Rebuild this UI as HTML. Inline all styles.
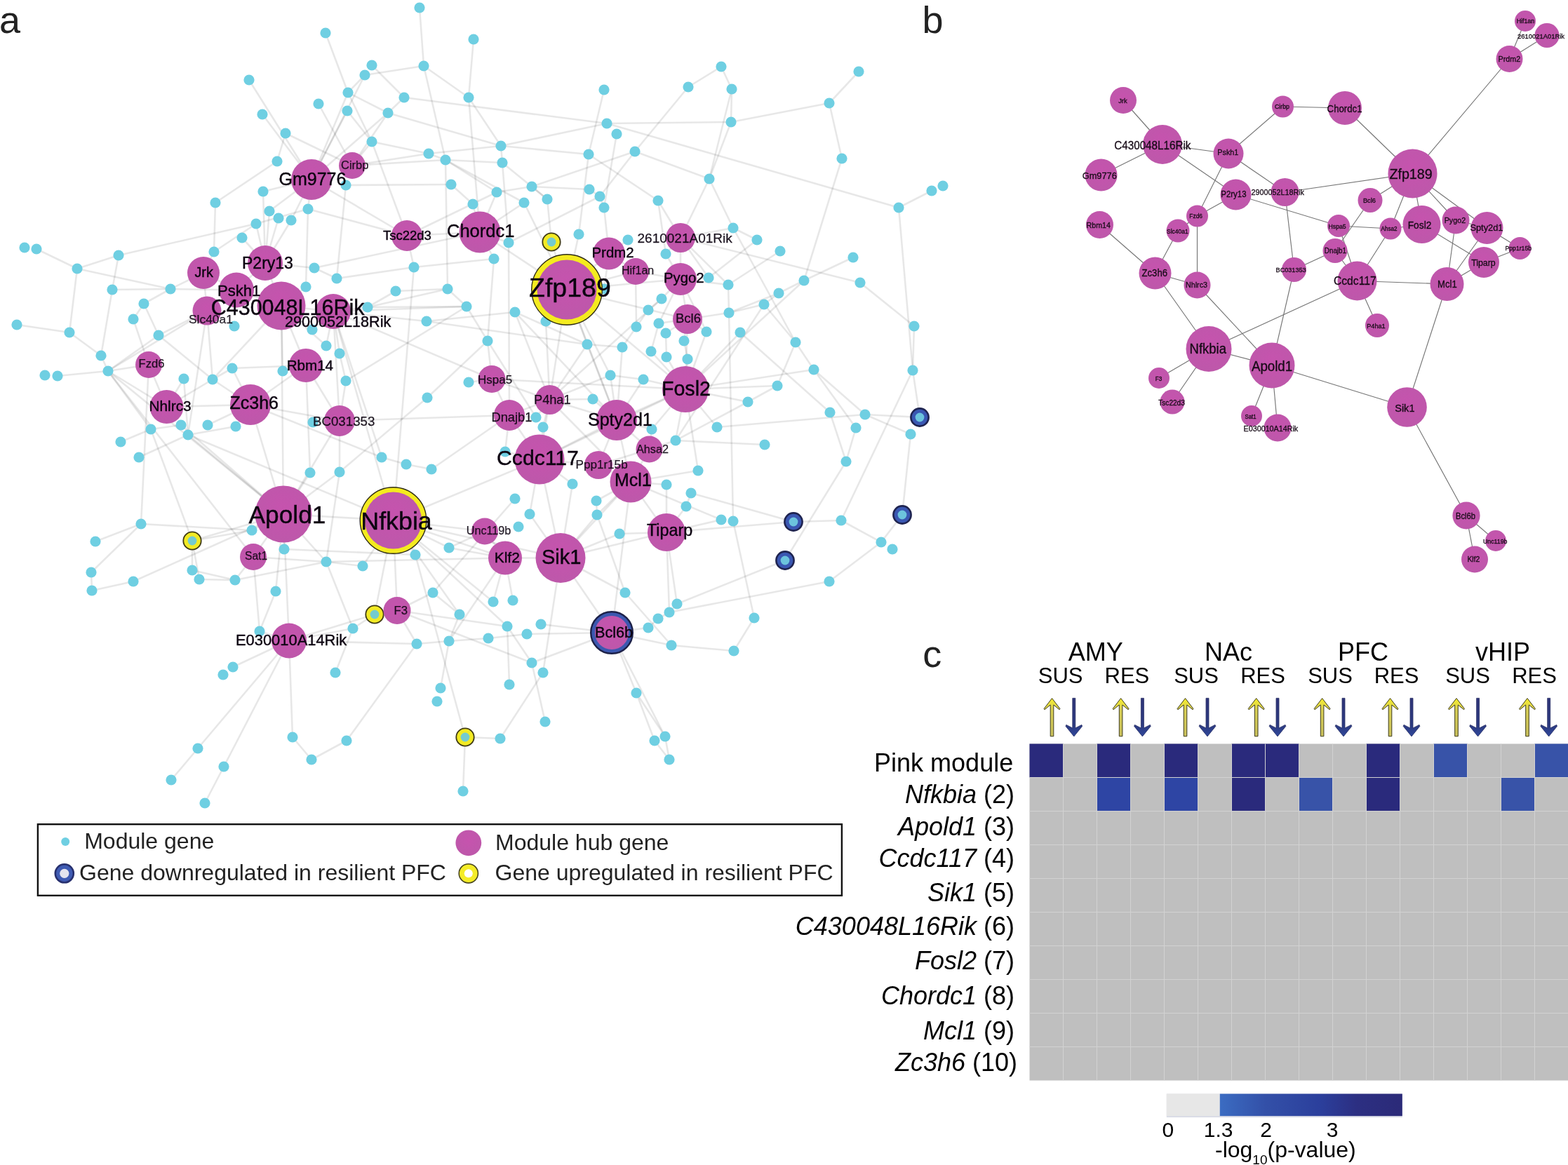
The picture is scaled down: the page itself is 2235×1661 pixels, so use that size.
<!DOCTYPE html>
<html lang="en"><head><meta charset="utf-8"><title>Figure</title>
<style>html,body{margin:0;padding:0;background:#fff}svg{display:block}text{font-family:"Liberation Sans",Arial,Helvetica,sans-serif}.al text{fill:#0c0410;stroke:#0c0410;stroke-width:0.4px}.bl text{fill:#160a16;stroke:#160a16;stroke-width:0.3px}.it{font-style:italic}</style></head><body>
<svg width="2235" height="1661" viewBox="0 0 2235 1661">
<rect width="2235" height="1661" fill="#fff"/>
<defs>
<radialGradient id="hg" cx="50%" cy="40%" r="75%"><stop offset="0" stop-color="#c653ae"/><stop offset="1" stop-color="#bb59a9"/></radialGradient>
<linearGradient id="cb" x1="0" x2="1" y1="0" y2="0"><stop offset="0" stop-color="#3b6cc2"/><stop offset="0.25" stop-color="#3350a8"/><stop offset="0.55" stop-color="#2b3f9c"/><stop offset="0.75" stop-color="#2c2f82"/><stop offset="1" stop-color="#2b2a78"/></linearGradient>
<linearGradient id="yg" x1="0" x2="0" y1="0" y2="1"><stop offset="0" stop-color="#f7ee2c"/><stop offset="0.3" stop-color="#d8cf55"/><stop offset="1" stop-color="#c9c05c"/></linearGradient>
<linearGradient id="bg" x1="0" x2="0" y1="0" y2="1"><stop offset="0" stop-color="#2e3478"/><stop offset="0.7" stop-color="#2c3a80"/><stop offset="1" stop-color="#2f479a"/></linearGradient>
</defs>
<g id="a-edges" stroke="#000" stroke-opacity="0.096" stroke-width="2.6" stroke-linecap="round" fill="none">
<path d="M464 47L496 132"/>
<path d="M530 93L576 139"/>
<path d="M520 107L496 132"/>
<path d="M520 107L604 94"/>
<path d="M520 107L444 256"/>
<path d="M355 114L444 256"/>
<path d="M496 132L553 161"/>
<path d="M496 132L530 202"/>
<path d="M496 132L444 256"/>
<path d="M454 148L502 236"/>
<path d="M495 158L530 202"/>
<path d="M495 158L444 256"/>
<path d="M553 161L576 139"/>
<path d="M553 161L714 208"/>
<path d="M553 161L444 256"/>
<path d="M553 161L502 236"/>
<path d="M374 163L444 256"/>
<path d="M407 190L395 230"/>
<path d="M407 190L502 236"/>
<path d="M530 202L611 219"/>
<path d="M530 202L502 236"/>
<path d="M530 202L580 336"/>
<path d="M395 230L307 289"/>
<path d="M493 264L480 397"/>
<path d="M493 264L643 263"/>
<path d="M375 273L444 256"/>
<path d="M375 273L378 375"/>
<path d="M307 289L305 359"/>
<path d="M439 298L365 319"/>
<path d="M439 298L436 409"/>
<path d="M439 298L444 256"/>
<path d="M439 298L580 336"/>
<path d="M384 301L444 256"/>
<path d="M384 301L378 375"/>
<path d="M397 311L378 375"/>
<path d="M415 314L444 256"/>
<path d="M415 314L378 375"/>
<path d="M365 319L305 359"/>
<path d="M365 319L169 364"/>
<path d="M365 319L378 375"/>
<path d="M345 339L378 375"/>
<path d="M305 359L290 389"/>
<path d="M52 355L110 383"/>
<path d="M169 364L110 383"/>
<path d="M169 364L160 413"/>
<path d="M110 383L243 412"/>
<path d="M110 383L99 474"/>
<path d="M448 382L480 397"/>
<path d="M448 382L378 375"/>
<path d="M448 382L684 331"/>
<path d="M480 397L590 381"/>
<path d="M436 409L401 436"/>
<path d="M160 413L243 412"/>
<path d="M160 413L144 507"/>
<path d="M243 412L205 433"/>
<path d="M243 412L290 389"/>
<path d="M243 412L337 413.5"/>
<path d="M598 11L604 94"/>
<path d="M675 56L668 139"/>
<path d="M604 94L668 139"/>
<path d="M604 94L635 228"/>
<path d="M1028 95L981 124"/>
<path d="M1028 95L1043 127"/>
<path d="M981 124L905 216"/>
<path d="M1043 127L1042 174"/>
<path d="M1043 127L1011 255"/>
<path d="M861 128L839 220"/>
<path d="M576 139L865 176"/>
<path d="M668 139L714 208"/>
<path d="M668 139L684 331"/>
<path d="M865 176L1042 174"/>
<path d="M865 176L714 208"/>
<path d="M865 176L1281 296"/>
<path d="M1042 174L1011 255"/>
<path d="M1042 174L1182 147"/>
<path d="M879 191L861 296"/>
<path d="M714 208L611 219"/>
<path d="M714 208L839 220"/>
<path d="M714 208L716 232"/>
<path d="M611 219L635 228"/>
<path d="M611 219L502 236"/>
<path d="M839 220L938 286"/>
<path d="M839 220L825 334"/>
<path d="M905 216L1011 255"/>
<path d="M905 216L758 266"/>
<path d="M905 216L855 280"/>
<path d="M635 228L716 232"/>
<path d="M635 228L708 274"/>
<path d="M635 228L747 289"/>
<path d="M635 228L638 412"/>
<path d="M635 228L502 236"/>
<path d="M716 232L780 284"/>
<path d="M716 232L725 346"/>
<path d="M1011 255L1045 325"/>
<path d="M1011 255L970 339"/>
<path d="M643 263L674 291"/>
<path d="M758 266L840 270"/>
<path d="M758 266L708 274"/>
<path d="M758 266L780 284"/>
<path d="M840 270L855 280"/>
<path d="M708 274L580 336"/>
<path d="M708 274L684 331"/>
<path d="M855 280L861 296"/>
<path d="M855 280L725 346"/>
<path d="M780 284L786 345"/>
<path d="M747 289L684 331"/>
<path d="M747 289L808 413"/>
<path d="M938 286L949 362"/>
<path d="M938 286L970 339"/>
<path d="M674 291L684 331"/>
<path d="M861 296L868 361.5"/>
<path d="M1045 325L1079 342"/>
<path d="M1045 325L1134 488"/>
<path d="M1045 325L970 339"/>
<path d="M825 334L808 413"/>
<path d="M895 342L868 361.5"/>
<path d="M1079 342L1010 396"/>
<path d="M725 346L684 331"/>
<path d="M725 346L726 592"/>
<path d="M949 362L970 339"/>
<path d="M949 362L970 398"/>
<path d="M1112 358L1038 406"/>
<path d="M704 369L590 381"/>
<path d="M704 369L695 486"/>
<path d="M704 369L684 331"/>
<path d="M590 381L580 336"/>
<path d="M590 381L560.5 742"/>
<path d="M1010 396L970 339"/>
<path d="M1010 396L970 398"/>
<path d="M1038 406L1039 446"/>
<path d="M1038 406L970 339"/>
<path d="M1038 406L970 398"/>
<path d="M638 412L564 415"/>
<path d="M638 412L524 438"/>
<path d="M638 412L665 437"/>
<path d="M564 415L524 438"/>
<path d="M1224 102L1182 147"/>
<path d="M1182 147L1200 226"/>
<path d="M1200 226L1146 400"/>
<path d="M1328 272L1281 296"/>
<path d="M1281 296L1301 528"/>
<path d="M1216 367L1146 400"/>
<path d="M1146 400L1110 418"/>
<path d="M1146 400L977 555"/>
<path d="M1226 403L1303 465"/>
<path d="M1226 403L970 339"/>
<path d="M205 433L190 455"/>
<path d="M205 433L226 478"/>
<path d="M524 438L665 437"/>
<path d="M524 438L475 444"/>
<path d="M190 455L212 520"/>
<path d="M24 463L99 474"/>
<path d="M445 470L401 436"/>
<path d="M99 474L144 507"/>
<path d="M226 478L154 529"/>
<path d="M226 478L303 541"/>
<path d="M226 478L295 443"/>
<path d="M465 493L401 436"/>
<path d="M465 493L475 444"/>
<path d="M484 504L493 543"/>
<path d="M484 504L475 444"/>
<path d="M144 507L154 529"/>
<path d="M331 525L303 541"/>
<path d="M331 525L436 521"/>
<path d="M331 525L357 577"/>
<path d="M403 529L401 436"/>
<path d="M403 529L436 521"/>
<path d="M154 529L82 536"/>
<path d="M154 529L215 612"/>
<path d="M154 529L295 443"/>
<path d="M154 529L212 520"/>
<path d="M154 529L237.5 580"/>
<path d="M154 529L404 733"/>
<path d="M154 529L361 794"/>
<path d="M262 540L268 620"/>
<path d="M262 540L237.5 580"/>
<path d="M303 541L401 436"/>
<path d="M303 541L295 443"/>
<path d="M303 541L237.5 580"/>
<path d="M303 541L357 577"/>
<path d="M493 543L665 437"/>
<path d="M493 543L484 600"/>
<path d="M258 606L215 612"/>
<path d="M258 606L404 733"/>
<path d="M296 606L357 577"/>
<path d="M336 608L268 620"/>
<path d="M336 608L357 577"/>
<path d="M446 602L484 600"/>
<path d="M215 612L172 630"/>
<path d="M215 612L274 771"/>
<path d="M268 620L198 652"/>
<path d="M268 620L295 443"/>
<path d="M268 620L404 733"/>
<path d="M268 620L560.5 742"/>
<path d="M544 652L579 662"/>
<path d="M544 652L475 444"/>
<path d="M544 652L357 577"/>
<path d="M442 674L436 521"/>
<path d="M442 674L404 733"/>
<path d="M484 673L465 801"/>
<path d="M484 673L609 567"/>
<path d="M484 673L484 600"/>
<path d="M484 673L404 733"/>
<path d="M201 747L359 756"/>
<path d="M201 747L136 772"/>
<path d="M201 747L130 816"/>
<path d="M201 747L212 520"/>
<path d="M359 756L274 771"/>
<path d="M359 756L404 733"/>
<path d="M405 783L592 791"/>
<path d="M405 783L404 733"/>
<path d="M465 801L517 807"/>
<path d="M465 801L335 827"/>
<path d="M465 801L503 896"/>
<path d="M465 801L404 733"/>
<path d="M465 801L361 794"/>
<path d="M465 801L720 795.5"/>
<path d="M517 807L560.5 742"/>
<path d="M274 813L335 827"/>
<path d="M274 813L274 771"/>
<path d="M130 816L131 842"/>
<path d="M284 826L335 827"/>
<path d="M284 826L274 771"/>
<path d="M335 827L361 794"/>
<path d="M190 829L131 842"/>
<path d="M190 829L404 733"/>
<path d="M861 412L868 361.5"/>
<path d="M861 412L808 413"/>
<path d="M943 426L924 442"/>
<path d="M943 426L970 398"/>
<path d="M943 426L783.5 570"/>
<path d="M1089 434L1039 446"/>
<path d="M1089 434L963 628"/>
<path d="M1089 434L1110 418"/>
<path d="M1089 434L1134 488"/>
<path d="M665 437L695 486"/>
<path d="M665 437L475 444"/>
<path d="M924 442L907 466"/>
<path d="M734 445L608 458"/>
<path d="M734 445L837 491"/>
<path d="M734 445L783.5 570"/>
<path d="M734 445L879 599"/>
<path d="M1039 446L1045 743"/>
<path d="M1039 446L1110 418"/>
<path d="M1039 446L980 455"/>
<path d="M608 458L837 491"/>
<path d="M608 458L475 444"/>
<path d="M778 458L808 413"/>
<path d="M778 458L783.5 570"/>
<path d="M939 461L928 501"/>
<path d="M939 461L970 398"/>
<path d="M939 461L980 455"/>
<path d="M907 466L887 495"/>
<path d="M907 466L906 387"/>
<path d="M1007 473L970 398"/>
<path d="M1007 473L980 455"/>
<path d="M1007 473L977 555"/>
<path d="M1055 474L1183 588"/>
<path d="M1055 474L977 555"/>
<path d="M949 475L950 509"/>
<path d="M949 475L980 455"/>
<path d="M695 486L609 567"/>
<path d="M695 486L764 595"/>
<path d="M695 486L701 540.5"/>
<path d="M975 486L980 512"/>
<path d="M975 486L980 455"/>
<path d="M837 491L887 495"/>
<path d="M837 491L808 413"/>
<path d="M837 491L783.5 570"/>
<path d="M837 491L879 599"/>
<path d="M887 495L879 599"/>
<path d="M928 501L977 555"/>
<path d="M950 509L977 555"/>
<path d="M980 512L977 555"/>
<path d="M870 535L917 541"/>
<path d="M870 535L808 413"/>
<path d="M870 535L783.5 570"/>
<path d="M870 535L879 599"/>
<path d="M917 541L977 555"/>
<path d="M917 541L879 599"/>
<path d="M668 545L701 540.5"/>
<path d="M1108 550L1066 573"/>
<path d="M1108 550L1134 488"/>
<path d="M1108 550L977 555"/>
<path d="M845 569L783.5 570"/>
<path d="M845 569L879 599"/>
<path d="M1066 573L963 628"/>
<path d="M1066 573L977 555"/>
<path d="M764 595L783.5 570"/>
<path d="M764 595L726 592"/>
<path d="M774 609L783.5 570"/>
<path d="M774 609L769 655"/>
<path d="M1022 609L1233 591"/>
<path d="M1022 609L977 555"/>
<path d="M929 612L977 555"/>
<path d="M929 612L879 599"/>
<path d="M929 612L925.5 640.5"/>
<path d="M963 628L1090 634"/>
<path d="M963 628L977 555"/>
<path d="M963 628L925.5 640.5"/>
<path d="M720 644L726 592"/>
<path d="M720 644L769 655"/>
<path d="M579 662L615 669"/>
<path d="M615 669L726 592"/>
<path d="M995 671L977 555"/>
<path d="M995 671L899 687"/>
<path d="M816 690L769 655"/>
<path d="M816 690L799 795.5"/>
<path d="M950 691L899 687"/>
<path d="M950 691L950 759"/>
<path d="M985 703L978 722"/>
<path d="M985 703L1131 744"/>
<path d="M734 711L617 845"/>
<path d="M850 714L851 734"/>
<path d="M850 714L899 687"/>
<path d="M978 722L950 759"/>
<path d="M755 733L769 655"/>
<path d="M755 733L799 795.5"/>
<path d="M851 734L891 845"/>
<path d="M851 734L899 687"/>
<path d="M851 734L799 795.5"/>
<path d="M1028 741L899 687"/>
<path d="M1028 741L950 759"/>
<path d="M1045 743L1075 881"/>
<path d="M883 761L950 759"/>
<path d="M883 761L799 795.5"/>
<path d="M640 781L560.5 742"/>
<path d="M640 781L691 757.5"/>
<path d="M640 781L720 795.5"/>
<path d="M592 791L663 1051"/>
<path d="M592 791L560.5 742"/>
<path d="M1303 465L1301 528"/>
<path d="M1134 488L1160 527"/>
<path d="M1160 527L1233 591"/>
<path d="M1160 527L1220 610"/>
<path d="M1160 527L977 555"/>
<path d="M1301 528L1199 742"/>
<path d="M1301 528L1311 595"/>
<path d="M1183 588L1206 658"/>
<path d="M1233 591L1298 619"/>
<path d="M1233 591L1311 595"/>
<path d="M1220 610L1206 658"/>
<path d="M1298 619L1286 734"/>
<path d="M1206 658L1119 799"/>
<path d="M1199 742L1256 773"/>
<path d="M1199 742L1131 744"/>
<path d="M1256 773L1182 829"/>
<path d="M1256 773L1286 734"/>
<path d="M1182 829L954 873"/>
<path d="M393 843L370 900"/>
<path d="M393 843L404 733"/>
<path d="M503 896L478 959"/>
<path d="M503 896L534 876"/>
<path d="M503 896L412 913.5"/>
<path d="M370 900L361 794"/>
<path d="M370 900L412 913.5"/>
<path d="M332 951L412 913.5"/>
<path d="M417 1051L444 1083"/>
<path d="M417 1051L412 913.5"/>
<path d="M494 1056L444 1083"/>
<path d="M494 1056L594 918"/>
<path d="M282 1067L244 1112"/>
<path d="M282 1067L412 913.5"/>
<path d="M319 1093L292 1145"/>
<path d="M319 1093L412 913.5"/>
<path d="M617 845L655 876"/>
<path d="M617 845L566 870.5"/>
<path d="M891 845L957 920"/>
<path d="M891 845L799 795.5"/>
<path d="M703 858L560.5 742"/>
<path d="M703 858L720 795.5"/>
<path d="M731 856L720 795.5"/>
<path d="M965 861L954 873"/>
<path d="M965 861L1119 799"/>
<path d="M965 861L950 759"/>
<path d="M954 873L938 882"/>
<path d="M954 873L950 759"/>
<path d="M655 876L640 914"/>
<path d="M655 876L560.5 742"/>
<path d="M938 882L924 895"/>
<path d="M1075 881L1046 928"/>
<path d="M771 890L872 902"/>
<path d="M723 893L758 945"/>
<path d="M723 893L726 976"/>
<path d="M723 893L560.5 742"/>
<path d="M723 893L566 870.5"/>
<path d="M924 895L872 902"/>
<path d="M751 904L696 910"/>
<path d="M751 904L872 902"/>
<path d="M696 910L640 914"/>
<path d="M640 914L594 918"/>
<path d="M640 914L628 981"/>
<path d="M640 914L720 795.5"/>
<path d="M594 918L412 913.5"/>
<path d="M594 918L566 870.5"/>
<path d="M957 920L1046 928"/>
<path d="M957 920L872 902"/>
<path d="M758 945L777 1029"/>
<path d="M758 945L566 870.5"/>
<path d="M758 945L872 902"/>
<path d="M774 959L713 1053"/>
<path d="M774 959L799 795.5"/>
<path d="M907 988L948 1050"/>
<path d="M907 988L933 1056"/>
<path d="M907 988L872 902"/>
<path d="M713 1053L663 1051"/>
<path d="M948 1050L954 1083"/>
<path d="M948 1050L872 902"/>
<path d="M933 1056L954 1083"/>
<path d="M660 1128L663 1051"/>
<path d="M786 345L808 413"/>
<path d="M274 771L404 733"/>
<path d="M534 876L560.5 742"/>
<path d="M534 876L412 913.5"/>
<path d="M1131 744L950 759"/>
<path d="M444 256L580 336"/>
<path d="M378 375L337 413.5"/>
<path d="M378 375L401 436"/>
<path d="M290 389L337 413.5"/>
<path d="M290 389L295 443"/>
<path d="M337 413.5L401 436"/>
<path d="M337 413.5L295 443"/>
<path d="M401 436L475 444"/>
<path d="M401 436L436 521"/>
<path d="M401 436L404 733"/>
<path d="M475 444L484 600"/>
<path d="M475 444L560.5 742"/>
<path d="M475 444L701 540.5"/>
<path d="M580 336L684 331"/>
<path d="M684 331L808 413"/>
<path d="M868 361.5L906 387"/>
<path d="M868 361.5L808 413"/>
<path d="M970 339L970 398"/>
<path d="M906 387L970 398"/>
<path d="M906 387L808 413"/>
<path d="M970 398L808 413"/>
<path d="M970 398L980 455"/>
<path d="M808 413L980 455"/>
<path d="M808 413L783.5 570"/>
<path d="M808 413L977 555"/>
<path d="M808 413L879 599"/>
<path d="M980 455L977 555"/>
<path d="M212 520L237.5 580"/>
<path d="M436 521L357 577"/>
<path d="M436 521L484 600"/>
<path d="M237.5 580L357 577"/>
<path d="M357 577L484 600"/>
<path d="M357 577L404 733"/>
<path d="M484 600L404 733"/>
<path d="M484 600L726 592"/>
<path d="M404 733L361 794"/>
<path d="M404 733L560.5 742"/>
<path d="M404 733L412 913.5"/>
<path d="M560.5 742L769 655"/>
<path d="M560.5 742L691 757.5"/>
<path d="M560.5 742L720 795.5"/>
<path d="M560.5 742L799 795.5"/>
<path d="M560.5 742L566 870.5"/>
<path d="M701 540.5L783.5 570"/>
<path d="M701 540.5L977 555"/>
<path d="M701 540.5L726 592"/>
<path d="M783.5 570L726 592"/>
<path d="M783.5 570L879 599"/>
<path d="M783.5 570L769 655"/>
<path d="M783.5 570L899 687"/>
<path d="M977 555L879 599"/>
<path d="M977 555L769 655"/>
<path d="M726 592L769 655"/>
<path d="M879 599L925.5 640.5"/>
<path d="M879 599L769 655"/>
<path d="M879 599L853 663"/>
<path d="M879 599L899 687"/>
<path d="M925.5 640.5L853 663"/>
<path d="M925.5 640.5L899 687"/>
<path d="M769 655L853 663"/>
<path d="M769 655L799 795.5"/>
<path d="M853 663L899 687"/>
<path d="M899 687L950 759"/>
<path d="M899 687L799 795.5"/>
<path d="M899 687L872 902"/>
<path d="M950 759L799 795.5"/>
<path d="M691 757.5L720 795.5"/>
<path d="M720 795.5L799 795.5"/>
<path d="M799 795.5L872 902"/>
</g>
<g id="a-genes" fill="#6fcfe2">
<circle cx="464" cy="47" r="7.6"/>
<circle cx="530" cy="93" r="7.6"/>
<circle cx="520" cy="107" r="7.6"/>
<circle cx="355" cy="114" r="7.6"/>
<circle cx="496" cy="132" r="7.6"/>
<circle cx="454" cy="148" r="7.6"/>
<circle cx="495" cy="158" r="7.6"/>
<circle cx="553" cy="161" r="7.6"/>
<circle cx="374" cy="163" r="7.6"/>
<circle cx="407" cy="190" r="7.6"/>
<circle cx="530" cy="202" r="7.6"/>
<circle cx="395" cy="230" r="7.6"/>
<circle cx="493" cy="264" r="7.6"/>
<circle cx="375" cy="273" r="7.6"/>
<circle cx="307" cy="289" r="7.6"/>
<circle cx="439" cy="298" r="7.6"/>
<circle cx="384" cy="301" r="7.6"/>
<circle cx="397" cy="311" r="7.6"/>
<circle cx="415" cy="314" r="7.6"/>
<circle cx="365" cy="319" r="7.6"/>
<circle cx="345" cy="339" r="7.6"/>
<circle cx="305" cy="359" r="7.6"/>
<circle cx="35" cy="353" r="7.6"/>
<circle cx="52" cy="355" r="7.6"/>
<circle cx="169" cy="364" r="7.6"/>
<circle cx="110" cy="383" r="7.6"/>
<circle cx="448" cy="382" r="7.6"/>
<circle cx="480" cy="397" r="7.6"/>
<circle cx="436" cy="409" r="7.6"/>
<circle cx="160" cy="413" r="7.6"/>
<circle cx="243" cy="412" r="7.6"/>
<circle cx="598" cy="11" r="7.6"/>
<circle cx="675" cy="56" r="7.6"/>
<circle cx="604" cy="94" r="7.6"/>
<circle cx="1028" cy="95" r="7.6"/>
<circle cx="981" cy="124" r="7.6"/>
<circle cx="1043" cy="127" r="7.6"/>
<circle cx="861" cy="128" r="7.6"/>
<circle cx="576" cy="139" r="7.6"/>
<circle cx="668" cy="139" r="7.6"/>
<circle cx="865" cy="176" r="7.6"/>
<circle cx="1042" cy="174" r="7.6"/>
<circle cx="879" cy="191" r="7.6"/>
<circle cx="714" cy="208" r="7.6"/>
<circle cx="611" cy="219" r="7.6"/>
<circle cx="839" cy="220" r="7.6"/>
<circle cx="905" cy="216" r="7.6"/>
<circle cx="635" cy="228" r="7.6"/>
<circle cx="716" cy="232" r="7.6"/>
<circle cx="1011" cy="255" r="7.6"/>
<circle cx="643" cy="263" r="7.6"/>
<circle cx="758" cy="266" r="7.6"/>
<circle cx="840" cy="270" r="7.6"/>
<circle cx="708" cy="274" r="7.6"/>
<circle cx="855" cy="280" r="7.6"/>
<circle cx="780" cy="284" r="7.6"/>
<circle cx="747" cy="289" r="7.6"/>
<circle cx="938" cy="286" r="7.6"/>
<circle cx="674" cy="291" r="7.6"/>
<circle cx="861" cy="296" r="7.6"/>
<circle cx="1045" cy="325" r="7.6"/>
<circle cx="825" cy="334" r="7.6"/>
<circle cx="895" cy="342" r="7.6"/>
<circle cx="1079" cy="342" r="7.6"/>
<circle cx="725" cy="346" r="7.6"/>
<circle cx="949" cy="362" r="7.6"/>
<circle cx="1112" cy="358" r="7.6"/>
<circle cx="704" cy="369" r="7.6"/>
<circle cx="590" cy="381" r="7.6"/>
<circle cx="1010" cy="396" r="7.6"/>
<circle cx="1038" cy="406" r="7.6"/>
<circle cx="638" cy="412" r="7.6"/>
<circle cx="564" cy="415" r="7.6"/>
<circle cx="1224" cy="102" r="7.6"/>
<circle cx="1182" cy="147" r="7.6"/>
<circle cx="1200" cy="226" r="7.6"/>
<circle cx="1344" cy="265" r="7.6"/>
<circle cx="1328" cy="272" r="7.6"/>
<circle cx="1281" cy="296" r="7.6"/>
<circle cx="1216" cy="367" r="7.6"/>
<circle cx="1146" cy="400" r="7.6"/>
<circle cx="1226" cy="403" r="7.6"/>
<circle cx="205" cy="433" r="7.6"/>
<circle cx="524" cy="438" r="7.6"/>
<circle cx="190" cy="455" r="7.6"/>
<circle cx="24" cy="463" r="7.6"/>
<circle cx="334" cy="465" r="7.6"/>
<circle cx="445" cy="470" r="7.6"/>
<circle cx="99" cy="474" r="7.6"/>
<circle cx="226" cy="478" r="7.6"/>
<circle cx="465" cy="493" r="7.6"/>
<circle cx="484" cy="504" r="7.6"/>
<circle cx="144" cy="507" r="7.6"/>
<circle cx="331" cy="525" r="7.6"/>
<circle cx="403" cy="529" r="7.6"/>
<circle cx="154" cy="529" r="7.6"/>
<circle cx="64" cy="535" r="7.6"/>
<circle cx="82" cy="536" r="7.6"/>
<circle cx="262" cy="540" r="7.6"/>
<circle cx="303" cy="541" r="7.6"/>
<circle cx="493" cy="543" r="7.6"/>
<circle cx="258" cy="606" r="7.6"/>
<circle cx="296" cy="606" r="7.6"/>
<circle cx="336" cy="608" r="7.6"/>
<circle cx="446" cy="602" r="7.6"/>
<circle cx="215" cy="612" r="7.6"/>
<circle cx="268" cy="620" r="7.6"/>
<circle cx="172" cy="630" r="7.6"/>
<circle cx="198" cy="652" r="7.6"/>
<circle cx="544" cy="652" r="7.6"/>
<circle cx="442" cy="674" r="7.6"/>
<circle cx="484" cy="673" r="7.6"/>
<circle cx="201" cy="747" r="7.6"/>
<circle cx="359" cy="756" r="7.6"/>
<circle cx="136" cy="772" r="7.6"/>
<circle cx="405" cy="783" r="7.6"/>
<circle cx="465" cy="801" r="7.6"/>
<circle cx="517" cy="807" r="7.6"/>
<circle cx="274" cy="813" r="7.6"/>
<circle cx="130" cy="816" r="7.6"/>
<circle cx="284" cy="826" r="7.6"/>
<circle cx="335" cy="827" r="7.6"/>
<circle cx="190" cy="829" r="7.6"/>
<circle cx="861" cy="412" r="7.6"/>
<circle cx="943" cy="426" r="7.6"/>
<circle cx="1089" cy="434" r="7.6"/>
<circle cx="665" cy="437" r="7.6"/>
<circle cx="924" cy="442" r="7.6"/>
<circle cx="734" cy="445" r="7.6"/>
<circle cx="1039" cy="446" r="7.6"/>
<circle cx="608" cy="458" r="7.6"/>
<circle cx="778" cy="458" r="7.6"/>
<circle cx="939" cy="461" r="7.6"/>
<circle cx="907" cy="466" r="7.6"/>
<circle cx="1007" cy="473" r="7.6"/>
<circle cx="1055" cy="474" r="7.6"/>
<circle cx="949" cy="475" r="7.6"/>
<circle cx="695" cy="486" r="7.6"/>
<circle cx="975" cy="486" r="7.6"/>
<circle cx="837" cy="491" r="7.6"/>
<circle cx="887" cy="495" r="7.6"/>
<circle cx="928" cy="501" r="7.6"/>
<circle cx="950" cy="509" r="7.6"/>
<circle cx="980" cy="512" r="7.6"/>
<circle cx="870" cy="535" r="7.6"/>
<circle cx="917" cy="541" r="7.6"/>
<circle cx="668" cy="545" r="7.6"/>
<circle cx="1108" cy="550" r="7.6"/>
<circle cx="609" cy="567" r="7.6"/>
<circle cx="845" cy="569" r="7.6"/>
<circle cx="1066" cy="573" r="7.6"/>
<circle cx="764" cy="595" r="7.6"/>
<circle cx="774" cy="609" r="7.6"/>
<circle cx="1022" cy="609" r="7.6"/>
<circle cx="929" cy="612" r="7.6"/>
<circle cx="963" cy="628" r="7.6"/>
<circle cx="1090" cy="634" r="7.6"/>
<circle cx="720" cy="644" r="7.6"/>
<circle cx="579" cy="662" r="7.6"/>
<circle cx="615" cy="669" r="7.6"/>
<circle cx="995" cy="671" r="7.6"/>
<circle cx="816" cy="690" r="7.6"/>
<circle cx="950" cy="691" r="7.6"/>
<circle cx="985" cy="703" r="7.6"/>
<circle cx="734" cy="711" r="7.6"/>
<circle cx="850" cy="714" r="7.6"/>
<circle cx="978" cy="722" r="7.6"/>
<circle cx="755" cy="733" r="7.6"/>
<circle cx="851" cy="734" r="7.6"/>
<circle cx="1028" cy="741" r="7.6"/>
<circle cx="1045" cy="743" r="7.6"/>
<circle cx="739" cy="751" r="7.6"/>
<circle cx="883" cy="761" r="7.6"/>
<circle cx="640" cy="781" r="7.6"/>
<circle cx="592" cy="791" r="7.6"/>
<circle cx="1110" cy="418" r="7.6"/>
<circle cx="1303" cy="465" r="7.6"/>
<circle cx="1134" cy="488" r="7.6"/>
<circle cx="1160" cy="527" r="7.6"/>
<circle cx="1301" cy="528" r="7.6"/>
<circle cx="1183" cy="588" r="7.6"/>
<circle cx="1233" cy="591" r="7.6"/>
<circle cx="1220" cy="610" r="7.6"/>
<circle cx="1298" cy="619" r="7.6"/>
<circle cx="1206" cy="658" r="7.6"/>
<circle cx="1199" cy="742" r="7.6"/>
<circle cx="1256" cy="773" r="7.6"/>
<circle cx="1272" cy="783" r="7.6"/>
<circle cx="1182" cy="829" r="7.6"/>
<circle cx="131" cy="842" r="7.6"/>
<circle cx="393" cy="843" r="7.6"/>
<circle cx="503" cy="896" r="7.6"/>
<circle cx="370" cy="900" r="7.6"/>
<circle cx="332" cy="951" r="7.6"/>
<circle cx="318" cy="962" r="7.6"/>
<circle cx="478" cy="959" r="7.6"/>
<circle cx="417" cy="1051" r="7.6"/>
<circle cx="494" cy="1056" r="7.6"/>
<circle cx="282" cy="1067" r="7.6"/>
<circle cx="444" cy="1083" r="7.6"/>
<circle cx="319" cy="1093" r="7.6"/>
<circle cx="244" cy="1112" r="7.6"/>
<circle cx="292" cy="1145" r="7.6"/>
<circle cx="617" cy="845" r="7.6"/>
<circle cx="891" cy="845" r="7.6"/>
<circle cx="703" cy="858" r="7.6"/>
<circle cx="731" cy="856" r="7.6"/>
<circle cx="965" cy="861" r="7.6"/>
<circle cx="954" cy="873" r="7.6"/>
<circle cx="655" cy="876" r="7.6"/>
<circle cx="938" cy="882" r="7.6"/>
<circle cx="1075" cy="881" r="7.6"/>
<circle cx="771" cy="890" r="7.6"/>
<circle cx="723" cy="893" r="7.6"/>
<circle cx="924" cy="895" r="7.6"/>
<circle cx="751" cy="904" r="7.6"/>
<circle cx="696" cy="910" r="7.6"/>
<circle cx="640" cy="914" r="7.6"/>
<circle cx="594" cy="918" r="7.6"/>
<circle cx="957" cy="920" r="7.6"/>
<circle cx="1046" cy="928" r="7.6"/>
<circle cx="758" cy="945" r="7.6"/>
<circle cx="774" cy="959" r="7.6"/>
<circle cx="726" cy="976" r="7.6"/>
<circle cx="628" cy="981" r="7.6"/>
<circle cx="623" cy="1000" r="7.6"/>
<circle cx="907" cy="988" r="7.6"/>
<circle cx="713" cy="1053" r="7.6"/>
<circle cx="777" cy="1029" r="7.6"/>
<circle cx="948" cy="1050" r="7.6"/>
<circle cx="933" cy="1056" r="7.6"/>
<circle cx="954" cy="1083" r="7.6"/>
<circle cx="660" cy="1128" r="7.6"/>
</g>
<g id="a-up">
<circle cx="786" cy="345" r="12.7" fill="#f2ea24" stroke="#3f3a14" stroke-width="1.8"/><circle cx="786" cy="345" r="6.4" fill="#74cbd0"/>
<circle cx="274" cy="771" r="12.7" fill="#f2ea24" stroke="#3f3a14" stroke-width="1.8"/><circle cx="274" cy="771" r="6.4" fill="#74cbd0"/>
<circle cx="534" cy="876" r="12.7" fill="#f2ea24" stroke="#3f3a14" stroke-width="1.8"/><circle cx="534" cy="876" r="6.4" fill="#74cbd0"/>
<circle cx="663" cy="1051" r="12.7" fill="#f2ea24" stroke="#3f3a14" stroke-width="1.8"/><circle cx="663" cy="1051" r="6.4" fill="#74cbd0"/>
</g>
<g id="a-down">
<circle cx="1311" cy="595" r="12.6" fill="#3a57b2" stroke="#1f2450" stroke-width="2.6"/><circle cx="1311" cy="595" r="6.4" fill="#6cc4dd"/>
<circle cx="1286" cy="734" r="12.6" fill="#3a57b2" stroke="#1f2450" stroke-width="2.6"/><circle cx="1286" cy="734" r="6.4" fill="#6cc4dd"/>
<circle cx="1131" cy="744" r="12.6" fill="#3a57b2" stroke="#1f2450" stroke-width="2.6"/><circle cx="1131" cy="744" r="6.4" fill="#6cc4dd"/>
<circle cx="1119" cy="799" r="12.6" fill="#3a57b2" stroke="#1f2450" stroke-width="2.6"/><circle cx="1119" cy="799" r="6.4" fill="#6cc4dd"/>
</g>
<g id="a-hubs">
<circle cx="444" cy="256" r="29" fill="url(#hg)"/>
<circle cx="502" cy="236" r="19" fill="url(#hg)"/>
<circle cx="378" cy="375" r="25" fill="url(#hg)"/>
<circle cx="290" cy="389" r="23" fill="url(#hg)"/>
<circle cx="337" cy="413.5" r="25" fill="url(#hg)"/>
<circle cx="401" cy="436" r="34.5" fill="url(#hg)"/>
<circle cx="295" cy="443" r="20.5" fill="url(#hg)"/>
<circle cx="475" cy="444" r="25" fill="url(#hg)"/>
<circle cx="580" cy="336" r="22" fill="url(#hg)"/>
<circle cx="684" cy="331" r="29.5" fill="url(#hg)"/>
<circle cx="868" cy="361.5" r="23" fill="url(#hg)"/>
<circle cx="970" cy="339" r="21" fill="url(#hg)"/>
<circle cx="906" cy="387" r="19" fill="url(#hg)"/>
<circle cx="970" cy="398" r="23" fill="url(#hg)"/>
<circle cx="808" cy="413" r="50.3" fill="#f4eb1f" stroke="#2e2b14" stroke-width="1.4"/>
<circle cx="808" cy="413" r="42.5" fill="url(#hg)"/>
<circle cx="980" cy="455" r="21" fill="url(#hg)"/>
<circle cx="212" cy="520" r="19" fill="url(#hg)"/>
<circle cx="436" cy="521" r="24" fill="url(#hg)"/>
<circle cx="237.5" cy="580" r="24" fill="url(#hg)"/>
<circle cx="357" cy="577" r="29" fill="url(#hg)"/>
<circle cx="484" cy="600" r="22" fill="url(#hg)"/>
<circle cx="404" cy="733" r="40.5" fill="url(#hg)"/>
<circle cx="361" cy="794" r="19" fill="url(#hg)"/>
<circle cx="560.5" cy="742" r="47.3" fill="#f4eb1f" stroke="#2e2b14" stroke-width="1.4"/>
<circle cx="560.5" cy="742" r="40.6" fill="url(#hg)"/>
<circle cx="701" cy="540.5" r="19.5" fill="url(#hg)"/>
<circle cx="783.5" cy="570" r="21" fill="url(#hg)"/>
<circle cx="977" cy="555" r="33" fill="url(#hg)"/>
<circle cx="726" cy="592" r="22" fill="url(#hg)"/>
<circle cx="879" cy="599" r="29" fill="url(#hg)"/>
<circle cx="925.5" cy="640.5" r="19" fill="url(#hg)"/>
<circle cx="769" cy="655" r="35.5" fill="url(#hg)"/>
<circle cx="853" cy="663" r="20" fill="url(#hg)"/>
<circle cx="899" cy="687" r="29.5" fill="url(#hg)"/>
<circle cx="950" cy="759" r="27" fill="url(#hg)"/>
<circle cx="691" cy="757.5" r="19" fill="url(#hg)"/>
<circle cx="720" cy="795.5" r="24" fill="url(#hg)"/>
<circle cx="799" cy="795.5" r="35.5" fill="url(#hg)"/>
<circle cx="412" cy="913.5" r="25" fill="url(#hg)"/>
<circle cx="566" cy="870.5" r="19.5" fill="url(#hg)"/>
<circle cx="872" cy="902" r="29.8" fill="#3c58b0" stroke="#1d2148" stroke-width="2.4"/>
<circle cx="872" cy="902" r="24" fill="url(#hg)"/>
</g>
<g id="a-labels" class="al">
<text x="397.5" y="264" font-size="25">Gm9776</text>
<text x="486" y="241" font-size="16.5" opacity="0.9" style="stroke-width:0.25px">Cirbp</text>
<text x="345" y="382.5" font-size="23">P2ry13</text>
<text x="277.5" y="395" font-size="19.7">Jrk</text>
<text x="310" y="422" font-size="22.1">Pskh1</text>
<text x="300.7" y="448.7" font-size="30.5">C430048L16Rik</text>
<text x="269" y="461" font-size="17.4" opacity="0.9" style="stroke-width:0.25px">Slc40a1</text>
<text x="406" y="466" font-size="21.6">2900052L18Rik</text>
<text x="546" y="341.6" font-size="18.5">Tsc22d3</text>
<text x="637" y="337.5" font-size="25.5">Chordc1</text>
<text x="843.5" y="367" font-size="20.4">Prdm2</text>
<text x="908.5" y="346" font-size="19" opacity="0.94" style="stroke-width:0.25px">2610021A01Rik</text>
<text x="886" y="391" font-size="16" opacity="0.92" style="stroke-width:0.25px">Hif1an</text>
<text x="946" y="402.5" font-size="20.3">Pygo2</text>
<text x="754" y="423" font-size="37.5">Zfp189</text>
<text x="963" y="460" font-size="18.5" opacity="0.94" style="stroke-width:0.25px">Bcl6</text>
<text x="197.5" y="524" font-size="16.6" opacity="0.9" style="stroke-width:0.25px">Fzd6</text>
<text x="408.7" y="527.5" font-size="20.6">Rbm14</text>
<text x="212.5" y="586" font-size="20.8">Nhlrc3</text>
<text x="327.5" y="583" font-size="25">Zc3h6</text>
<text x="446" y="607" font-size="18.7" opacity="0.92" style="stroke-width:0.25px">BC031353</text>
<text x="354.5" y="745.8" font-size="35.3">Apold1</text>
<text x="349" y="797.5" font-size="15.6" opacity="0.9" style="stroke-width:0.25px">Sat1</text>
<text x="514.3" y="754.5" font-size="35.8">Nfkbia</text>
<text x="681" y="547" font-size="17" opacity="0.92" style="stroke-width:0.25px">Hspa5</text>
<text x="761" y="575.5" font-size="18.2" opacity="0.92" style="stroke-width:0.25px">P4ha1</text>
<text x="943" y="564" font-size="28.6">Fosl2</text>
<text x="700.5" y="600.5" font-size="18.3" opacity="0.92" style="stroke-width:0.25px">Dnajb1</text>
<text x="838" y="607" font-size="25">Spty2d1</text>
<text x="907" y="646" font-size="16.2" opacity="0.9" style="stroke-width:0.25px">Ahsa2</text>
<text x="708" y="663" font-size="30.2">Ccdc117</text>
<text x="820.5" y="668" font-size="17.1" opacity="0.9" style="stroke-width:0.25px">Ppp1r15b</text>
<text x="876" y="692.5" font-size="24.9">Mcl1</text>
<text x="922" y="764" font-size="23.3">Tiparp</text>
<text x="664.7" y="762" font-size="16.2" opacity="0.9" style="stroke-width:0.25px">Unc119b</text>
<text x="704.7" y="801.7" font-size="21">Klf2</text>
<text x="772" y="804" font-size="29">Sik1</text>
<text x="336" y="920" font-size="21.9">E030010A14Rik</text>
<text x="561.5" y="875.5" font-size="16.7" opacity="0.9" style="stroke-width:0.25px">F3</text>
<text x="848" y="908.5" font-size="21.6">Bcl6b</text>
</g>
<g id="b-edges" stroke="#757575" stroke-width="1.15" fill="none">
<path d="M2174 30L2151.5 84"/>
<path d="M2205 50.5L2151.5 84"/>
<path d="M2151.5 84L2013.5 247.5"/>
<path d="M1828.5 152L1917 154"/>
<path d="M1828.5 152L1751 219"/>
<path d="M1917 154L2013.5 247.5"/>
<path d="M1657 206L1751 219"/>
<path d="M1657 206L1761.5 277.5"/>
<path d="M1751 219L1831.5 274"/>
<path d="M1751 219L1706.5 308"/>
<path d="M1831.5 274L2013.5 247.5"/>
<path d="M1761.5 277.5L1706.5 308"/>
<path d="M1761.5 277.5L1908 322"/>
<path d="M1831.5 274L1844.5 384.5"/>
<path d="M1953 285.5L2013.5 247.5"/>
<path d="M1953 285.5L1903 357.5"/>
<path d="M2013.5 247.5L1982 326"/>
<path d="M2013.5 247.5L2026.5 320"/>
<path d="M2013.5 247.5L2075 314"/>
<path d="M2013.5 247.5L2119.5 325"/>
<path d="M1908 322L1982 326"/>
<path d="M1982 326L2026.5 320"/>
<path d="M1908 322L1934.5 400.5"/>
<path d="M1982 326L1934.5 400.5"/>
<path d="M1903 357.5L1844.5 384.5"/>
<path d="M1903 357.5L1934.5 400.5"/>
<path d="M2026.5 320L2115 374"/>
<path d="M2075 314L2062.5 405"/>
<path d="M2075 314L2119.5 325"/>
<path d="M2119.5 325L2062.5 405"/>
<path d="M2119.5 325L2166.5 354"/>
<path d="M2115 374L2166.5 354"/>
<path d="M2115 374L2062.5 405"/>
<path d="M1934.5 400.5L2062.5 405"/>
<path d="M1706.5 308L1706.5 406.5"/>
<path d="M1706.5 308L1679 329"/>
<path d="M1844.5 384.5L1813 521"/>
<path d="M1601 143L1657 206"/>
<path d="M1569.5 249.5L1657 206"/>
<path d="M1567.5 320.5L1646.5 389.5"/>
<path d="M1679 329L1646.5 389.5"/>
<path d="M1646.5 389.5L1706.5 406.5"/>
<path d="M1646.5 389.5L1723 497.5"/>
<path d="M1706.5 406.5L1813 521"/>
<path d="M1934.5 400.5L1723 497.5"/>
<path d="M1934.5 400.5L1963 464"/>
<path d="M1723 497.5L1813 521"/>
<path d="M1723 497.5L1652 539"/>
<path d="M1723 497.5L1671 573"/>
<path d="M1813 521L1784 593"/>
<path d="M1813 521L1821 610"/>
<path d="M1813 521L2005.5 580.5"/>
<path d="M2005.5 580.5L2062.5 405"/>
<path d="M2005.5 580.5L2090 735"/>
<path d="M2090 735L2132 771"/>
<path d="M2090 735L2102 797.5"/>
</g>
<g id="b-hubs" fill="url(#hg)">
<circle cx="2174" cy="30" r="15"/>
<circle cx="2205" cy="50.5" r="17.5"/>
<circle cx="2151.5" cy="84" r="19"/>
<circle cx="1828.5" cy="152" r="15.5"/>
<circle cx="1917" cy="154" r="24"/>
<circle cx="1751" cy="219" r="21.5"/>
<circle cx="2013.5" cy="247.5" r="35"/>
<circle cx="1761.5" cy="277.5" r="22"/>
<circle cx="1831.5" cy="274" r="20"/>
<circle cx="1953" cy="285.5" r="17.5"/>
<circle cx="1706.5" cy="308" r="15.5"/>
<circle cx="1908" cy="322" r="16"/>
<circle cx="1982" cy="326" r="15.5"/>
<circle cx="2026.5" cy="320" r="27"/>
<circle cx="2075" cy="314" r="19.5"/>
<circle cx="2119.5" cy="325" r="23"/>
<circle cx="1679" cy="329" r="16.5"/>
<circle cx="1903" cy="357.5" r="17.5"/>
<circle cx="2166.5" cy="354" r="16"/>
<circle cx="2115" cy="374" r="22"/>
<circle cx="1844.5" cy="384.5" r="17.5"/>
<circle cx="1934.5" cy="400.5" r="28"/>
<circle cx="2062.5" cy="405" r="24"/>
<circle cx="1706.5" cy="406.5" r="19"/>
<circle cx="1601" cy="143" r="19"/>
<circle cx="1657" cy="206" r="28"/>
<circle cx="1569.5" cy="249.5" r="23"/>
<circle cx="1567.5" cy="320.5" r="19.5"/>
<circle cx="1646.5" cy="389.5" r="23"/>
<circle cx="1963" cy="464" r="17"/>
<circle cx="1723" cy="497.5" r="32.5"/>
<circle cx="1813" cy="521" r="32.5"/>
<circle cx="1652" cy="539" r="15"/>
<circle cx="1671" cy="573" r="17.5"/>
<circle cx="1784" cy="593" r="15"/>
<circle cx="1821" cy="610" r="19.5"/>
<circle cx="2005.5" cy="580.5" r="28.3"/>
<circle cx="2090" cy="735" r="19.6"/>
<circle cx="2132" cy="771" r="15"/>
<circle cx="2102" cy="797.5" r="19"/>
</g>
<g id="b-labels" class="bl">
<text x="2161.7" y="33" font-size="9.35" textLength="25.5" lengthAdjust="spacingAndGlyphs">Hif1an</text>
<text x="2163" y="54.5" font-size="9.98" textLength="67.0" lengthAdjust="spacingAndGlyphs">2610021A01Rik</text>
<text x="2135.5" y="87.5" font-size="11.41" textLength="31.7" lengthAdjust="spacingAndGlyphs">Prdm2</text>
<text x="1817" y="155" font-size="9.32" textLength="21.0" lengthAdjust="spacingAndGlyphs">Cirbp</text>
<text x="1891.6" y="160" font-size="14.02" textLength="50.0" lengthAdjust="spacingAndGlyphs">Chordc1</text>
<text x="1735.3" y="221.3" font-size="11.44" textLength="30.0" lengthAdjust="spacingAndGlyphs">Pskh1</text>
<text x="1980.4" y="255" font-size="20.87" textLength="61.3" lengthAdjust="spacingAndGlyphs">Zfp189</text>
<text x="1740.3" y="281.4" font-size="12.11" textLength="36.2" lengthAdjust="spacingAndGlyphs">P2ry13</text>
<text x="1783.5" y="278" font-size="11.42" textLength="75.5" lengthAdjust="spacingAndGlyphs">2900052L18Rik</text>
<text x="1942.9" y="289.4" font-size="9.86" textLength="18.1" lengthAdjust="spacingAndGlyphs">Bcl6</text>
<text x="1695.3" y="311.4" font-size="8.92" textLength="18.7" lengthAdjust="spacingAndGlyphs">Fzd6</text>
<text x="1893.6" y="326" font-size="9.17" textLength="25.0" lengthAdjust="spacingAndGlyphs">Hspa5</text>
<text x="1968.6" y="329" font-size="8.60" textLength="23.0" lengthAdjust="spacingAndGlyphs">Ahsa2</text>
<text x="2006.7" y="326" font-size="14.61" textLength="33.7" lengthAdjust="spacingAndGlyphs">Fosl2</text>
<text x="2058.7" y="317.6" font-size="11.40" textLength="30.5" lengthAdjust="spacingAndGlyphs">Pygo2</text>
<text x="2095.4" y="329" font-size="13.61" textLength="47.1" lengthAdjust="spacingAndGlyphs">Spty2d1</text>
<text x="1663" y="332.7" font-size="8.98" textLength="30.6" lengthAdjust="spacingAndGlyphs">Slc40a1</text>
<text x="1887.8" y="361" font-size="10.44" textLength="31.2" lengthAdjust="spacingAndGlyphs">Dnajb1</text>
<text x="2145.5" y="357" font-size="9.17" textLength="37.5" lengthAdjust="spacingAndGlyphs">Ppp1r15b</text>
<text x="2097.2" y="379" font-size="13.07" textLength="34.5" lengthAdjust="spacingAndGlyphs">Tiparp</text>
<text x="1818.6" y="388.2" font-size="9.64" textLength="43.0" lengthAdjust="spacingAndGlyphs">BC031353</text>
<text x="1901" y="406.4" font-size="16.59" textLength="60.6" lengthAdjust="spacingAndGlyphs">Ccdc117</text>
<text x="2049" y="410.2" font-size="13.91" textLength="27.7" lengthAdjust="spacingAndGlyphs">Mcl1</text>
<text x="1690" y="410" font-size="11.37" textLength="31.0" lengthAdjust="spacingAndGlyphs">Nhlrc3</text>
<text x="1594.2" y="147" font-size="9.94" textLength="12.5" lengthAdjust="spacingAndGlyphs">Jrk</text>
<text x="1588.3" y="212.7" font-size="16.12" textLength="109.1" lengthAdjust="spacingAndGlyphs">C430048L16Rik</text>
<text x="1542.7" y="254.7" font-size="13.60" textLength="49.2" lengthAdjust="spacingAndGlyphs">Gm9776</text>
<text x="1548.6" y="324.6" font-size="11.31" textLength="34.4" lengthAdjust="spacingAndGlyphs">Rbm14</text>
<text x="1627.5" y="394" font-size="13.92" textLength="36.5" lengthAdjust="spacingAndGlyphs">Zc3h6</text>
<text x="1948.2" y="467.6" font-size="9.71" textLength="26.5" lengthAdjust="spacingAndGlyphs">P4ha1</text>
<text x="1695.6" y="504.3" font-size="19.60" textLength="52.4" lengthAdjust="spacingAndGlyphs">Nfkbia</text>
<text x="1783.9" y="528.8" font-size="19.85" textLength="58.3" lengthAdjust="spacingAndGlyphs">Apold1</text>
<text x="1646.8" y="542.6" font-size="8.63" textLength="9.5" lengthAdjust="spacingAndGlyphs">F3</text>
<text x="1651.3" y="577.6" font-size="10.67" textLength="37.5" lengthAdjust="spacingAndGlyphs">Tsc22d3</text>
<text x="1774.6" y="596.9" font-size="8.24" textLength="16.0" lengthAdjust="spacingAndGlyphs">Sat1</text>
<text x="1772.6" y="615.1" font-size="11.38" textLength="77.6" lengthAdjust="spacingAndGlyphs">E030010A14Rik</text>
<text x="1988.2" y="587.1" font-size="15.42" textLength="28.3" lengthAdjust="spacingAndGlyphs">Sik1</text>
<text x="2075" y="739.6" font-size="11.86" textLength="28.0" lengthAdjust="spacingAndGlyphs">Bcl6b</text>
<text x="2113.9" y="775" font-size="9.34" textLength="34.6" lengthAdjust="spacingAndGlyphs">Unc119b</text>
<text x="2091.4" y="801.3" font-size="11.01" textLength="17.9" lengthAdjust="spacingAndGlyphs">Klf2</text>
</g>
<g id="legend">
<rect x="53.9" y="1175.2" width="1146" height="101.6" fill="#fff" stroke="#111" stroke-width="2.4"/>
<circle cx="93.2" cy="1200" r="6" fill="#6fcfe2"/>
<text x="120.2" y="1210" font-size="32" fill="#222">Module gene</text>
<circle cx="91.8" cy="1245.3" r="13" fill="#3f5bb3" stroke="#27306e" stroke-width="2.6"/><circle cx="91.8" cy="1245.3" r="6.6" fill="#e4e4ee"/>
<text x="113" y="1255.3" font-size="32" fill="#222">Gene downregulated in resilient PFC</text>
<circle cx="667.8" cy="1201.8" r="18.4" fill="url(#hg)"/>
<text x="706" y="1212" font-size="32" fill="#222">Module hub gene</text>
<circle cx="667.8" cy="1245.3" r="13.6" fill="#f4ec27" stroke="#4a4720" stroke-width="1.6"/><circle cx="667.8" cy="1245.3" r="6" fill="#fff"/>
<text x="705.5" y="1255.3" font-size="32" fill="#222">Gene upregulated in resilient PFC</text>
</g>
<g id="heatmap">
<rect x="1467.5" y="1060.5" width="768" height="480" fill="#bfbfbf"/>
<rect x="1467.5" y="1060.5" width="48" height="48" fill="#2a2a7c"/>
<rect x="1563.5" y="1060.5" width="48" height="48" fill="#2a2a7c"/>
<rect x="1659.5" y="1060.5" width="48" height="48" fill="#2a2a7c"/>
<rect x="1755.5" y="1060.5" width="48" height="48" fill="#2a2a7c"/>
<rect x="1803.5" y="1060.5" width="48" height="48" fill="#2a2a7c"/>
<rect x="1947.5" y="1060.5" width="48" height="48" fill="#2a2a7c"/>
<rect x="2043.5" y="1060.5" width="48" height="48" fill="#3853a8"/>
<rect x="2187.5" y="1060.5" width="48" height="48" fill="#3853a8"/>
<rect x="1563.5" y="1108.5" width="48" height="48" fill="#2e45a4"/>
<rect x="1659.5" y="1108.5" width="48" height="48" fill="#2e45a4"/>
<rect x="1755.5" y="1108.5" width="48" height="48" fill="#2a2a7c"/>
<rect x="1851.5" y="1108.5" width="48" height="48" fill="#3853a8"/>
<rect x="1947.5" y="1108.5" width="48" height="48" fill="#2a2a7c"/>
<rect x="2139.5" y="1108.5" width="48" height="48" fill="#3853a8"/>
<g stroke="#d2d2d2" stroke-width="1" fill="none">
<path d="M1515.5 1060.5V1540.5"/>
<path d="M1563.5 1060.5V1540.5"/>
<path d="M1611.5 1060.5V1540.5"/>
<path d="M1659.5 1060.5V1540.5"/>
<path d="M1707.5 1060.5V1540.5"/>
<path d="M1755.5 1060.5V1540.5"/>
<path d="M1803.5 1060.5V1540.5"/>
<path d="M1851.5 1060.5V1540.5"/>
<path d="M1899.5 1060.5V1540.5"/>
<path d="M1947.5 1060.5V1540.5"/>
<path d="M1995.5 1060.5V1540.5"/>
<path d="M2043.5 1060.5V1540.5"/>
<path d="M2091.5 1060.5V1540.5"/>
<path d="M2139.5 1060.5V1540.5"/>
<path d="M2187.5 1060.5V1540.5"/>
<path d="M1467.5 1108.5H2235.5"/>
<path d="M1467.5 1156.5H2235.5"/>
<path d="M1467.5 1204.5H2235.5"/>
<path d="M1467.5 1252.5H2235.5"/>
<path d="M1467.5 1300.5H2235.5"/>
<path d="M1467.5 1348.5H2235.5"/>
<path d="M1467.5 1396.5H2235.5"/>
<path d="M1467.5 1444.5H2235.5"/>
<path d="M1467.5 1492.5H2235.5"/>
</g></g>
<g id="c-head" fill="#000" text-anchor="middle">
<text x="1561.8" y="941.8" font-size="36">AMY</text>
<text x="1751" y="941.8" font-size="36">NAc</text>
<text x="1943" y="941.8" font-size="36">PFC</text>
<text x="2142" y="941.8" font-size="36">vHIP</text>
<text x="1511.6" y="974.2" font-size="31">SUS</text>
<text x="1606.4" y="974.2" font-size="31">RES</text>
<text x="1705" y="974.2" font-size="31">SUS</text>
<text x="1800" y="974.2" font-size="31">RES</text>
<text x="1896" y="974.2" font-size="31">SUS</text>
<text x="1990.5" y="974.2" font-size="31">RES</text>
<text x="2092" y="974.2" font-size="31">SUS</text>
<text x="2187" y="974.2" font-size="31">RES</text>
</g>
<g id="c-arrows">
<path d="M1497.2 1049.8V1005L1488.9 1011.8L1488.1 1010.4L1499.5 995.6L1510.9 1010.4L1510.1 1011.8L1501.8 1005V1049.8Z" fill="url(#yg)" stroke="#3c3a1c" stroke-width="1" stroke-linejoin="miter"/>
<path d="M1595.3 1049.8V1005L1587 1011.8L1586.2 1010.4L1597.6 995.6L1609 1010.4L1608.2 1011.8L1599.9 1005V1049.8Z" fill="url(#yg)" stroke="#3c3a1c" stroke-width="1" stroke-linejoin="miter"/>
<path d="M1687.2 1049.8V1005L1678.9 1011.8L1678.1 1010.4L1689.5 995.6L1700.9 1010.4L1700.1 1011.8L1691.8 1005V1049.8Z" fill="url(#yg)" stroke="#3c3a1c" stroke-width="1" stroke-linejoin="miter"/>
<path d="M1788.4 1049.8V1005L1780.1 1011.8L1779.3 1010.4L1790.7 995.6L1802.1 1010.4L1801.3 1011.8L1793 1005V1049.8Z" fill="url(#yg)" stroke="#3c3a1c" stroke-width="1" stroke-linejoin="miter"/>
<path d="M1882.3 1049.8V1005L1874 1011.8L1873.2 1010.4L1884.6 995.6L1896 1010.4L1895.2 1011.8L1886.9 1005V1049.8Z" fill="url(#yg)" stroke="#3c3a1c" stroke-width="1" stroke-linejoin="miter"/>
<path d="M1979.2 1049.8V1005L1970.9 1011.8L1970.1 1010.4L1981.5 995.6L1992.9 1010.4L1992.1 1011.8L1983.8 1005V1049.8Z" fill="url(#yg)" stroke="#3c3a1c" stroke-width="1" stroke-linejoin="miter"/>
<path d="M2073.7 1049.8V1005L2065.4 1011.8L2064.6 1010.4L2076 995.6L2087.4 1010.4L2086.6 1011.8L2078.3 1005V1049.8Z" fill="url(#yg)" stroke="#3c3a1c" stroke-width="1" stroke-linejoin="miter"/>
<path d="M2174.7 1049.8V1005L2166.4 1011.8L2165.6 1010.4L2177 995.6L2188.4 1010.4L2187.6 1011.8L2179.3 1005V1049.8Z" fill="url(#yg)" stroke="#3c3a1c" stroke-width="1" stroke-linejoin="miter"/>
<path d="M1528.8 995.4H1532.8V1038L1541.8 1033.4L1542.6 1035.4L1530.8 1050L1519 1035.4L1519.8 1033.4L1528.8 1038Z" fill="url(#bg)" stroke="#2a3066" stroke-width="0.8"/>
<path d="M1626.4 995.4H1630.4V1038L1639.4 1033.4L1640.2 1035.4L1628.4 1050L1616.6 1035.4L1617.4 1033.4L1626.4 1038Z" fill="url(#bg)" stroke="#2a3066" stroke-width="0.8"/>
<path d="M1719 995.4H1723V1038L1732 1033.4L1732.8 1035.4L1721 1050L1709.2 1035.4L1710 1033.4L1719 1038Z" fill="url(#bg)" stroke="#2a3066" stroke-width="0.8"/>
<path d="M1819 995.4H1823V1038L1832 1033.4L1832.8 1035.4L1821 1050L1809.2 1035.4L1810 1033.4L1819 1038Z" fill="url(#bg)" stroke="#2a3066" stroke-width="0.8"/>
<path d="M1913 995.4H1917V1038L1926 1033.4L1926.8 1035.4L1915 1050L1903.2 1035.4L1904 1033.4L1913 1038Z" fill="url(#bg)" stroke="#2a3066" stroke-width="0.8"/>
<path d="M2010 995.4H2014V1038L2023 1033.4L2023.8 1035.4L2012 1050L2000.2 1035.4L2001 1033.4L2010 1038Z" fill="url(#bg)" stroke="#2a3066" stroke-width="0.8"/>
<path d="M2104.6 995.4H2108.6V1038L2117.6 1033.4L2118.4 1035.4L2106.6 1050L2094.8 1035.4L2095.6 1033.4L2104.6 1038Z" fill="url(#bg)" stroke="#2a3066" stroke-width="0.8"/>
<path d="M2205.7 995.4H2209.7V1038L2218.7 1033.4L2219.5 1035.4L2207.7 1050L2195.9 1035.4L2196.7 1033.4L2205.7 1038Z" fill="url(#bg)" stroke="#2a3066" stroke-width="0.8"/>
</g>
<g id="c-rows" fill="#000" font-size="36" text-anchor="end">
<text x="1444.2" y="1099.5">Pink module</text>
<text x="1446" y="1144.5"><tspan class="it">Nfkbia</tspan> (2)</text>
<text x="1446" y="1190.5"><tspan class="it">Apold1</tspan> (3)</text>
<text x="1446" y="1236"><tspan class="it">Ccdc117</tspan> (4)</text>
<text x="1446" y="1284.5"><tspan class="it">Sik1</tspan> (5)</text>
<text x="1446" y="1332.5"><tspan class="it">C430048L16Rik</tspan> (6)</text>
<text x="1446" y="1382"><tspan class="it">Fosl2</tspan> (7)</text>
<text x="1446" y="1432"><tspan class="it">Chordc1</tspan> (8)</text>
<text x="1446" y="1482"><tspan class="it">Mcl1</tspan> (9)</text>
<text x="1450" y="1527"><tspan class="it">Zc3h6</tspan> (10)</text>
</g>
<g id="colorbar">
<rect x="1662.8" y="1559.5" width="336" height="33.6" fill="#d9dbe6"/>
<rect x="1662.8" y="1559.5" width="76" height="31.6" fill="#e7e7e7"/>
<rect x="1738.8" y="1559.5" width="260" height="31.6" fill="url(#cb)"/>
<g font-size="30" fill="#000" text-anchor="middle"><text x="1664.8" y="1620.6">0</text><text x="1736.6" y="1620.6">1.3</text><text x="1804.5" y="1620.6">2</text><text x="1899.2" y="1620.6">3</text></g>
<text x="1732" y="1649.6" font-size="32" fill="#000">-log<tspan font-size="19" dy="10">10</tspan><tspan dy="-10">(p-value)</tspan></text>
</g>
<g id="letters" font-size="54" fill="#222"><text x="-1" y="47">a</text><text x="1314.5" y="47">b</text><text x="1315.2" y="951">c</text></g>
</svg></body></html>
